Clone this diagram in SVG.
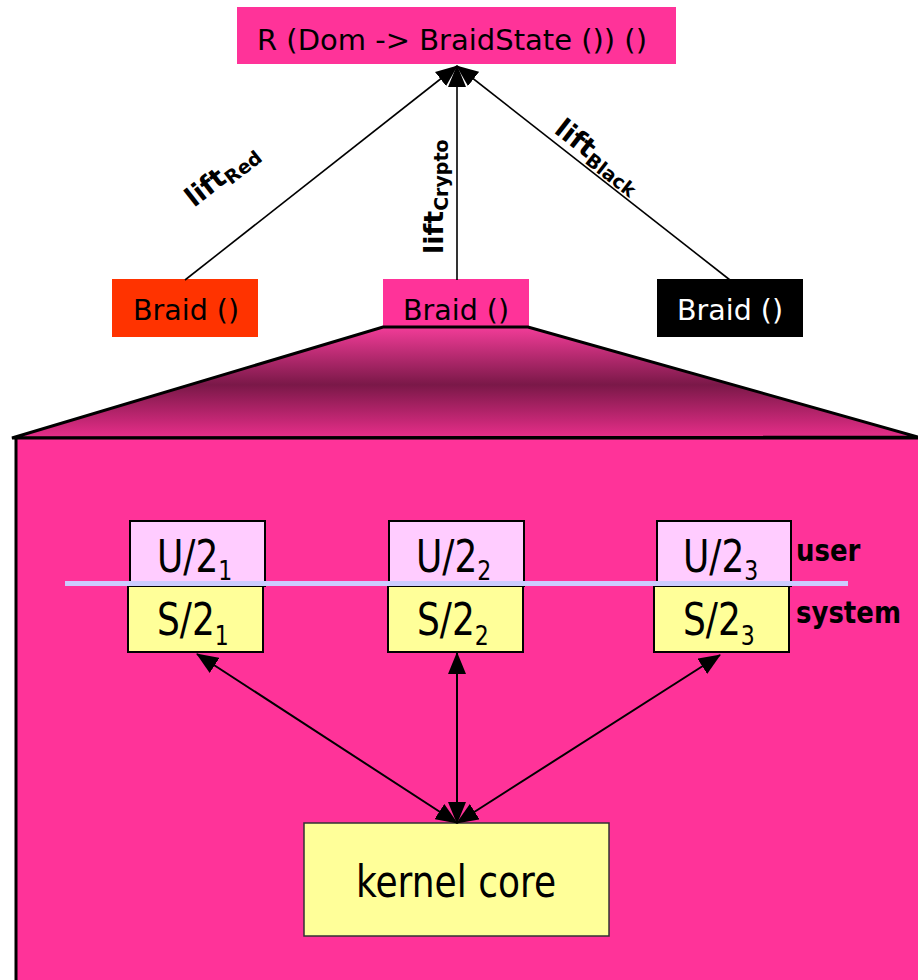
<svg xmlns="http://www.w3.org/2000/svg" width="918" height="980" viewBox="0 0 918 980">
<style>
  text { font-family: "DejaVu Sans", Verdana, sans-serif; fill: #000; }
  .lbl { font-size: 28.5px; }
  .big { font-size: 36px; }
  .sub { font-size: 22px; }
  .lift { font-size: 27px; font-weight: bold; }
  .liftsub { font-size: 19px; }
  .side { font-size: 26px; font-weight: bold; }
  .ubox { fill: #FFCCFF; stroke: #000; stroke-width: 2; }
  .sbox { fill: #FFFF99; stroke: #000; stroke-width: 2; }
  .edge { stroke: #000; fill: none; }
</style>
<defs>
  <marker id="ah" markerUnits="userSpaceOnUse" markerWidth="22" markerHeight="18" viewBox="0 0 22 18" refX="21" refY="9" orient="auto-start-reverse">
    <path d="M0,0 L22,9 L0,18 z" fill="#000"/>
  </marker>
  <linearGradient id="trap" x1="0" y1="0" x2="0" y2="1">
    <stop offset="0" stop-color="#F23C98"/>
    <stop offset="0.52" stop-color="#7A1848"/>
    <stop offset="1" stop-color="#E82E8A"/>
  </linearGradient>
</defs>

<g id="top">
  <rect x="237" y="7" width="439" height="57" fill="#FF3399"/>
  <text class="lbl" x="257" y="50" textLength="390" lengthAdjust="spacingAndGlyphs">R (Dom -&gt; BraidState ()) ()</text>
</g>

<g id="braid-red">
  <rect x="112" y="279" width="146" height="58" fill="#FF3300"/>
  <text class="lbl" x="133" y="320">Braid ()</text>
</g>
<g id="braid-pink">
  <rect x="383" y="279" width="146" height="50" fill="#FF3399"/>
  <text class="lbl" x="403" y="320">Braid ()</text>
</g>
<g id="braid-black">
  <rect x="657" y="279" width="146" height="58" fill="#000"/>
  <text class="lbl" x="677" y="320" style="fill:#fff">Braid ()</text>
</g>

<g id="zoom">
  <polygon points="383,327 528,327 918,437 12,438" fill="url(#trap)" stroke="#000" stroke-width="3"/>
  <rect x="16" y="438" width="910" height="560" fill="#FF3399" stroke="#000" stroke-width="3"/>
</g>

<g id="u1"><rect class="ubox" x="130" y="521" width="135" height="65"/>
  <text class="big" transform="translate(157,572) scale(1,1.22)">U/2<tspan class="sub" dy="6.5">1</tspan></text></g>
<g id="u2"><rect class="ubox" x="389" y="521" width="135" height="65"/>
  <text class="big" transform="translate(416,572) scale(1,1.22)">U/2<tspan class="sub" dy="6.5">2</tspan></text></g>
<g id="u3"><rect class="ubox" x="657" y="521" width="134" height="65"/>
  <text class="big" transform="translate(683,572) scale(1,1.22)">U/2<tspan class="sub" dy="6.5">3</tspan></text></g>

<g id="s1"><rect class="sbox" x="128" y="586" width="135" height="66"/>
  <text class="big" transform="translate(157,635) scale(1,1.22)">S/2<tspan class="sub" dy="8">1</tspan></text></g>
<g id="s2"><rect class="sbox" x="388" y="586" width="135" height="66"/>
  <text class="big" transform="translate(417,635) scale(1,1.22)">S/2<tspan class="sub" dy="8">2</tspan></text></g>
<g id="s3"><rect class="sbox" x="654" y="586" width="135" height="66"/>
  <text class="big" transform="translate(683,635) scale(1,1.22)">S/2<tspan class="sub" dy="8">3</tspan></text></g>

<g id="divider">
  <line x1="65" y1="583.5" x2="848" y2="583.5" stroke="#CCCCFF" stroke-width="5"/>
  <text class="side" transform="translate(796,561) scale(1,1.15)">user</text>
  <text class="side" transform="translate(796,623) scale(1,1.15)">system</text>
</g>

<g id="kernel">
  <rect x="304" y="823" width="305" height="113" fill="#FFFF99" stroke="#333" stroke-width="1.5"/>
  <text class="big" text-anchor="middle" transform="translate(456,897) scale(1,1.22)">kernel core</text>
</g>

<g id="connectors">
  <line class="edge" stroke-width="1.6" x1="185" y1="280" x2="457" y2="66" marker-end="url(#ah)"/>
  <line class="edge" stroke-width="1.6" x1="457" y1="280" x2="457" y2="66" marker-end="url(#ah)"/>
  <line class="edge" stroke-width="1.6" x1="730" y1="280" x2="457" y2="66" marker-end="url(#ah)"/>
  <line class="edge" stroke-width="2" x1="197" y1="654" x2="457" y2="823" marker-start="url(#ah)" marker-end="url(#ah)"/>
  <line class="edge" stroke-width="2" x1="457" y1="653" x2="457" y2="823" marker-start="url(#ah)" marker-end="url(#ah)"/>
  <line class="edge" stroke-width="2" x1="720" y1="655" x2="457" y2="823" marker-start="url(#ah)" marker-end="url(#ah)"/>
  <text class="lift" transform="translate(194,208) rotate(-38)">lift<tspan class="liftsub" dy="5">Red</tspan></text>
  <text class="lift" transform="translate(443,254) rotate(-90)">lift<tspan class="liftsub" dy="5">Crypto</tspan></text>
  <text class="lift" transform="translate(553,132) rotate(38)">lift<tspan class="liftsub" dy="5">Black</tspan></text>
</g>
</svg>
